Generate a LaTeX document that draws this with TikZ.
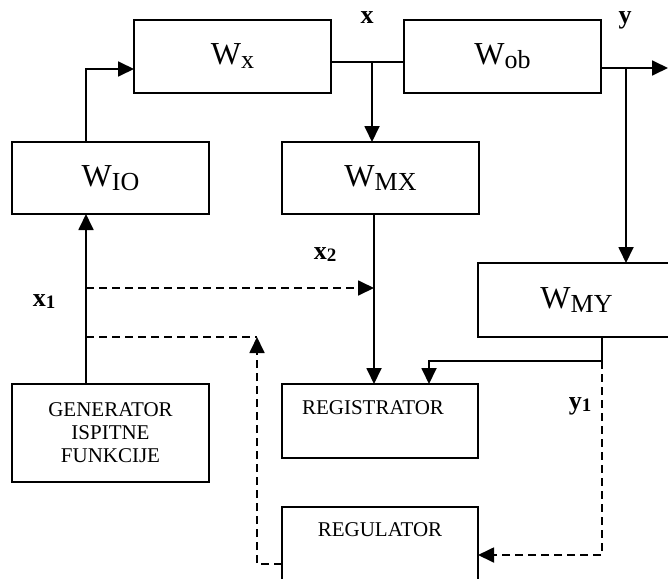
\documentclass[tikz,border=0pt]{standalone}
\usepackage{fontspec}
\setmainfont{Liberation Serif}
\usetikzlibrary{arrows.meta}
\newcommand{\wlabel}[1]{{\fontsize{32}{36}\selectfont W}\raisebox{-4pt}{\fontsize{26}{30}\selectfont #1}}
\newcommand{\siglabel}[2]{\textbf{#1}\raisebox{-2pt}{\fontsize{19}{21}\selectfont\textbf{#2}}}
\tikzstyle{block}=[draw, line width=1.8pt, inner sep=0, outer sep=0,
                   minimum width=197pt, minimum height=73pt]
\tikzstyle{small}=[font=\fontsize{21}{23}\selectfont, align=center]
\tikzstyle{signal}=[font=\fontsize{26}{28}\selectfont\bfseries, inner sep=0]
\tikzstyle{line}=[line width=1.8pt]
\tikzstyle{dline}=[line, dash pattern=on 8pt off 5pt]
\tikzstyle{arr}=[line, -{Triangle[length=16pt, width=15pt]}]
\tikzstyle{darr}=[arr, dash pattern=on 8pt off 5pt]

\begin{document}
\begin{tikzpicture}[x=1pt, y=-1pt]
    \useasboundingbox (0,0) rectangle (668,578);
    \clip (0,0) rectangle (668,578);
    % blocks
    \node[block] (Wx) at (232.5,56.5) {\wlabel{x}};
    \node[block] (Wob) at (502.5,56.5) {\wlabel{ob}};
    \node[block, minimum height=72pt] (WIO) at (110.5,178) {\wlabel{IO}};
    \node[block, minimum height=72pt] (WMX) at (380.5,178) {\wlabel{MX}};
    \node[block, minimum height=74pt] (WMY) at (576.5,300) {\wlabel{MY}};
    \node[block, small, minimum height=98pt] (gen) at (110.5,433) {GENERATOR\\ISPITNE\\FUNKCIJE};
    \node[block, minimum width=196pt, minimum height=74pt,
          label={[small, xshift=-7pt, yshift=13pt]center:REGISTRATOR}] (regis) at (380,421) {};
    \node[block, minimum width=196pt, minimum height=110pt,
          label={[small, yshift=32pt]center:REGULATOR}] (regul) at (380,562) {};
    % signals
    \node[signal] (lx) at (367,18) {x};
    \node[signal] (ly) at (625,20) {y};
    \node[signal] (lx2) at (325,255) {\siglabel{x}{2}};
    \node[signal] (lx1) at (44,302) {\siglabel{x}{1}};
    \node[signal] (ly1) at (580,406) {\siglabel{y}{1}};
    % junctions
    \coordinate (gio) at ([xshift=-24.5pt]WIO.north);
    \coordinate (gout) at ([xshift=-24.5pt]gen.north);
    \coordinate (mx) at ([xshift=-6.5pt]WMX.south);
    \coordinate (my) at ([xshift=25.5pt]WMY.south);
    \coordinate (jx) at (372,62);
    \coordinate (jy) at (626,68);
    \coordinate (out) at (668,68);
    \coordinate (j1) at (86,288);
    \coordinate (j2) at (86,337);
    \coordinate (fb) at (257,337);
    \coordinate (jmy) at (602,361);
    % solid connectors
    \draw[arr] (gio) |- ([yshift=-12.5pt]Wx.west);
    \draw[line] ([yshift=-5.5pt]Wx.east) -- ([yshift=-5.5pt]Wob.west);
    \draw[arr] (jx) -- (jx |- WMX.north);
    \draw[arr] ([yshift=-11.5pt]Wob.east) -- (out);
    \draw[arr] (jy) -- (jy |- WMY.north);
    \draw[arr] (mx) -- (mx |- regis.north);
    \draw[arr] (gout) -- (gout |- WIO.south);
    \draw[line] (my) -- (jmy);
    \draw[arr] (jmy) -| ([xshift=49pt]regis.north);
    % dashed connectors
    \draw[darr] (j1) -- (j1 -| mx);
    \draw[dline] (j2) -- (fb);
    \draw[darr] ([yshift=-2pt]regul.west) -| (fb);
    \draw[darr] (jmy) |- ([yshift=7pt]regul.east);
\end{tikzpicture}
\end{document}
